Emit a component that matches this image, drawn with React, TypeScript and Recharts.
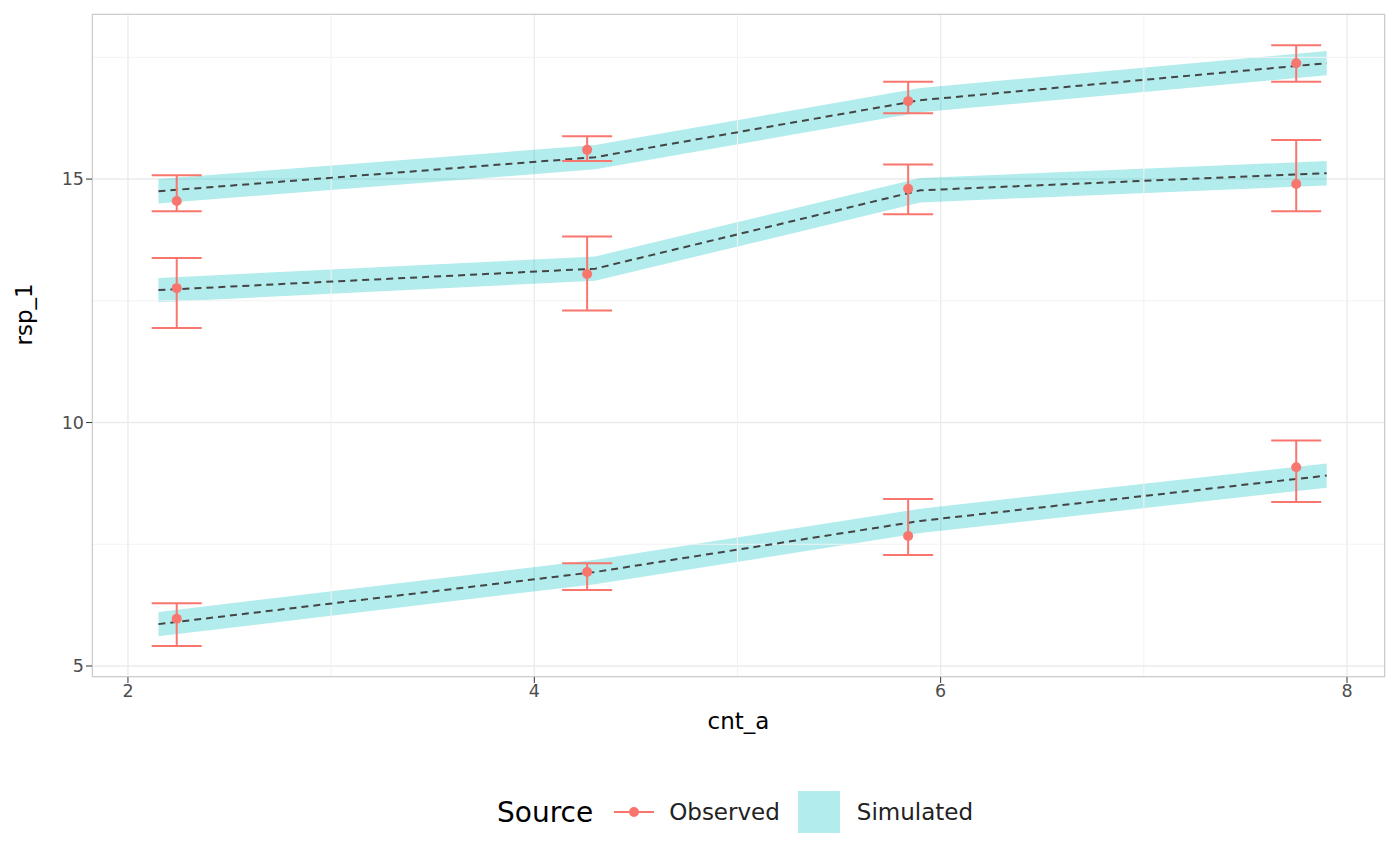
import { Area, CartesianGrid, ComposedChart, ErrorBar, Line, ReferenceLine, Scatter, XAxis, YAxis } from "recharts";

// simulated median line and band per group
const simX = [2.15, 4.3, 5.9, 7.9];
const simTop = [14.75, 15.45, 16.62, 17.38];
const simMid = [12.72, 13.16, 14.77, 15.12];
const simLow = [5.86, 6.93, 7.98, 8.91];
const bandHalf = 0.25;

// observed points with lower / upper error
const obsX = [2.24, 4.26, 5.84, 7.75];
const obsTop = [14.55, 15.6, 16.6, 17.38];
const obsTopLo = [14.34, 15.37, 16.35, 17.0];
const obsTopHi = [15.08, 15.88, 17.0, 17.75];
const obsMid = [12.76, 13.05, 14.8, 14.9];
const obsMidLo = [11.94, 12.3, 14.28, 14.34];
const obsMidHi = [13.38, 13.82, 15.3, 15.8];
const obsLow = [5.97, 6.93, 7.67, 9.08];
const obsLowLo = [5.41, 6.56, 7.28, 8.37];
const obsLowHi = [6.29, 7.11, 8.43, 9.63];

const xTicks = [2, 4, 6, 8];
const yTicks = [5, 10, 15];
const xMinor = [3, 5, 7];
const yMinor = [7.5, 12.5, 17.5];

const simGroups = [simTop, simMid, simLow].map((ys) =>
  simX.map((x, i) => ({ x, y: ys[i], band: [ys[i] - bandHalf, ys[i] + bandHalf] }))
);
const obsGroups = [
  [obsTop, obsTopLo, obsTopHi],
  [obsMid, obsMidLo, obsMidHi],
  [obsLow, obsLowLo, obsLowHi],
].map(([ys, lo, hi]) => obsX.map((x, i) => ({ x, y: ys[i], err: [ys[i] - lo[i], hi[i] - ys[i]] })));

const red = "#F8766D";
const teal = "#00BFC4";
const tick = { fontSize: 17.5, fill: "#4D4D4D" };

export default function App() {
  return (
    <div style={{ position: "absolute", left: 0, top: 0, width: 1400, height: 865, background: "#fff", fontFamily: "DejaVu Sans" }}>
      <ComposedChart width={1400} height={865} margin={{ top: 14, right: 15, bottom: 118, left: 0 }}>
        <CartesianGrid stroke="#EBEBEB" strokeWidth={1.4} />
        {xMinor.map((v) => (
          <ReferenceLine key={"x" + v} x={v} stroke="#F2F2F2" strokeWidth={1} />
        ))}
        {yMinor.map((v) => (
          <ReferenceLine key={"y" + v} y={v} stroke="#F2F2F2" strokeWidth={1} />
        ))}
        <XAxis
          type="number"
          dataKey="x"
          domain={[1.823, 8.187]}
          ticks={xTicks}
          allowDataOverflow
          height={70}
          tick={tick}
          tickLine={{ stroke: "#333" }}
          axisLine={false}
          label={{ value: "cnt_a", position: "insideTop", offset: 36, fontSize: 23, fill: "#000" }}
        />
        <YAxis
          type="number"
          dataKey="y"
          domain={[4.774, 18.39]}
          ticks={yTicks}
          allowDataOverflow
          width={92}
          tick={tick}
          tickLine={{ stroke: "#333" }}
          axisLine={false}
          label={{ value: "rsp_1", angle: -90, position: "insideLeft", offset: 24, fontSize: 23, fill: "#000" }}
        />
        {simGroups.map((d, i) => (
          <Area key={"a" + i} data={d} dataKey="band" type="linear" stroke="none" fill={teal} fillOpacity={0.3} isAnimationActive={false} />
        ))}
        {simGroups.map((d, i) => (
          <Line key={"l" + i} data={d} dataKey="y" type="linear" stroke="#444" strokeWidth={2} strokeDasharray="7 5" dot={false} isAnimationActive={false} />
        ))}
        {obsGroups.map((d, i) => (
          <Scatter key={"s" + i} data={d} dataKey="y" fill={red} shape={(p: any) => <circle cx={p.cx} cy={p.cy} r={5} fill={red} />} isAnimationActive={false}>
            <ErrorBar dataKey="err" direction="y" width={25} stroke={red} strokeWidth={2} />
          </Scatter>
        ))}
      </ComposedChart>
      <div style={{ position: "absolute", left: 92, top: 14, width: 1291, height: 661, border: "1.5px solid #CCCCCC", pointerEvents: "none" }} />
      <div style={{ position: "absolute", top: 791, left: 497, display: "flex", alignItems: "center", height: 42 }}>
        <span style={{ fontSize: 28, marginRight: 19 }}>Source</span>
        <svg width={44} height={42}>
          <line x1={2} x2={42} y1={21} y2={21} stroke={red} strokeWidth={2} />
          <circle cx={22} cy={21} r={5} fill={red} />
        </svg>
        <span style={{ fontSize: 23, marginLeft: 13, color: "#222" }}>Observed</span>
        <div style={{ width: 42, height: 42, background: teal, opacity: 0.3, marginLeft: 18 }} />
        <span style={{ fontSize: 23, marginLeft: 17, color: "#222" }}>Simulated</span>
      </div>
    </div>
  );
}
